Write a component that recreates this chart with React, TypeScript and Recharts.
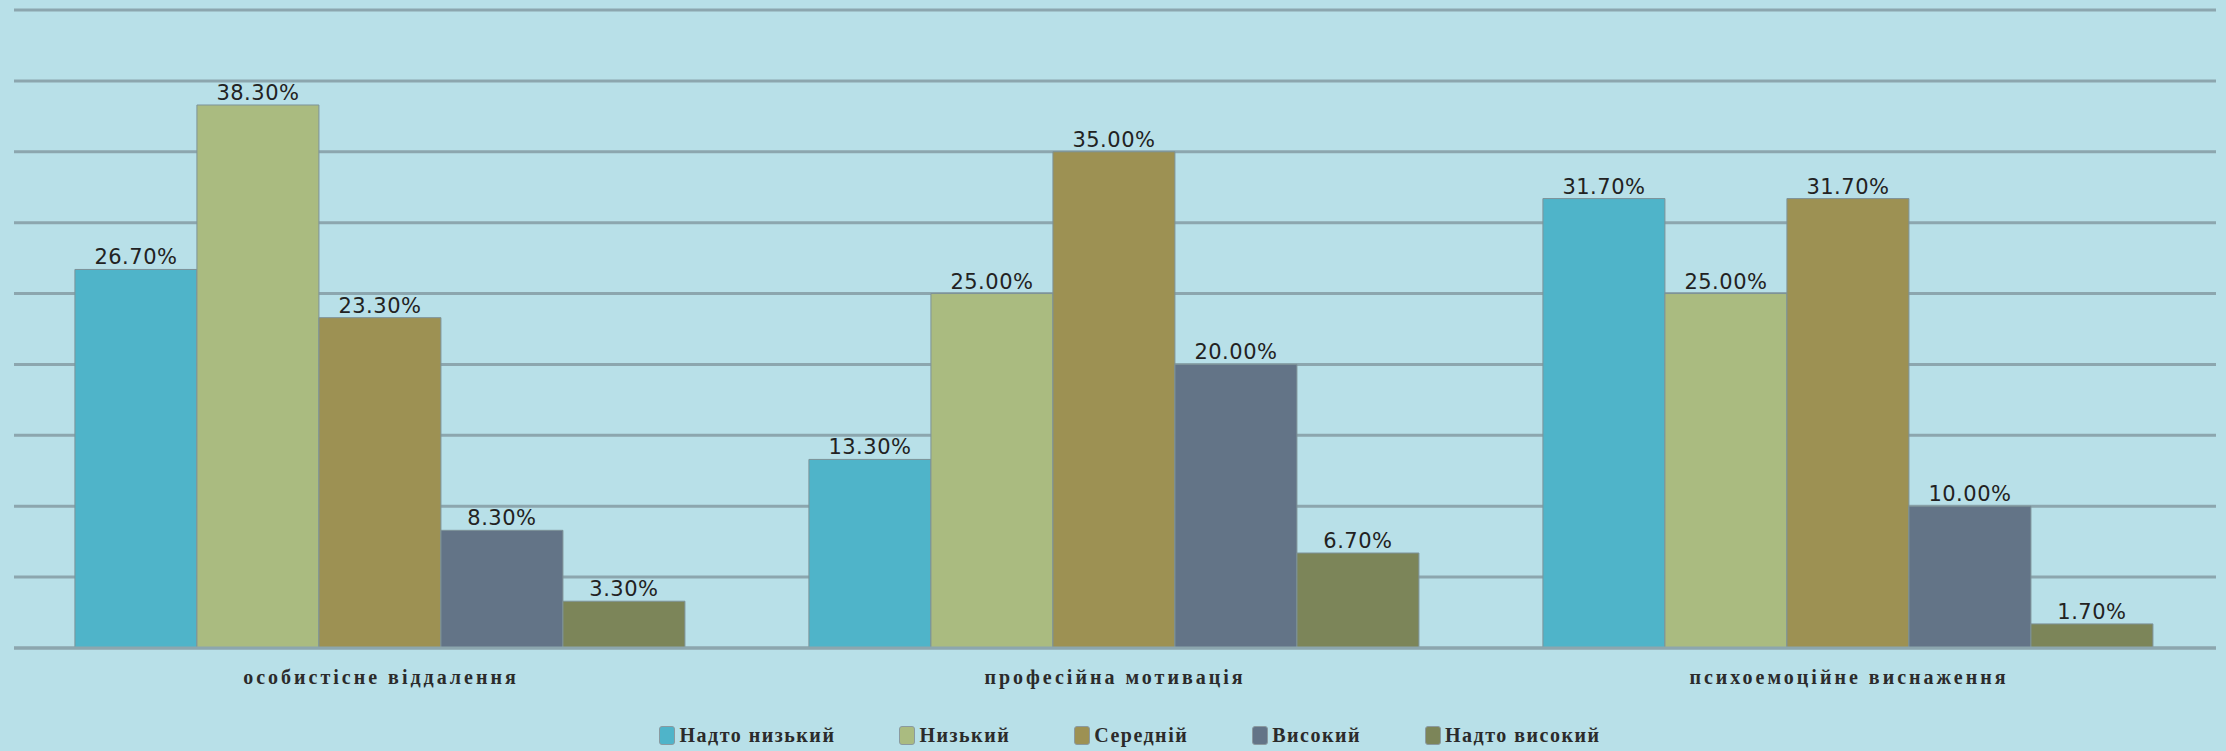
import { Bar, BarChart, CartesianGrid, LabelList, Legend, XAxis, YAxis } from "recharts";

const CATEGORIES = ["особистісне віддалення", "професійна мотивація", "психоемоційне виснаження"];
const SERIES = ["Надто низький", "Низький", "Середній", "Високий", "Надто високий"];
const COLORS = ["#4fb4c9", "#aabb80", "#9d9153", "#637487", "#7c8559"];

const VERY_LOW = [26.7, 13.3, 31.7];
const LOW = [38.3, 25.0, 25.0];
const MEDIUM = [23.3, 35.0, 31.7];
const HIGH = [8.3, 20.0, 10.0];
const VERY_HIGH = [3.3, 6.7, 1.7];

const Y_TICKS = [0, 5, 10, 15, 20, 25, 30, 35, 40, 45];

const VALUES = [VERY_LOW, LOW, MEDIUM, HIGH, VERY_HIGH];

const data = CATEGORIES.map((name, i) => {
  const row: Record<string, string | number> = { name };
  SERIES.forEach((s, k) => {
    row[`s${k}`] = VALUES[k][i];
  });
  return row;
});

const GRID = "#8ca6ae";
const SERIF = "'Liberation Serif', 'Times New Roman', serif";

function LegendBox() {
  return (
    <div style={{ display: "flex", justifyContent: "center", alignItems: "center", gap: 64, paddingTop: 10, paddingLeft: 30, fontFamily: SERIF, fontWeight: 700, fontSize: 20, letterSpacing: 1.5, color: "#2b2b2b" }}>
      {SERIES.map((s, k) => (
        <span key={s} style={{ display: "inline-flex", alignItems: "center", gap: 4 }}>
          <span style={{ width: 14, height: 17, background: COLORS[k], borderRadius: 3, border: "1px solid #8a9aa0", display: "inline-block" }} />
          {s}
        </span>
      ))}
    </div>
  );
}

export default function App() {
  return (
    <div style={{ width: 2226, height: 751, background: "#b8e0e8" }}>
      <style>{"body{margin:0}"}</style>
      <BarChart
        width={2226}
        height={751}
        data={data}
        margin={{ top: 10, right: 10, left: 14, bottom: 0 }}
        barCategoryGap="8.3%"
        barGap={0}
      >
        <CartesianGrid vertical={false} stroke={GRID} strokeWidth={3} />
        <XAxis
          dataKey="name"
          height={66}
          tickLine={false}
          axisLine={{ stroke: GRID, strokeWidth: 3 }}
          tick={{ fontFamily: SERIF, fontWeight: 700, fontSize: 20, letterSpacing: 3, fill: "#2b2b2b" }}
          tickMargin={16}
        />
        <YAxis hide domain={[0, 45]} ticks={Y_TICKS} />
        <Legend verticalAlign="bottom" height={37} content={() => <LegendBox />} />
        {SERIES.map((s, k) => (
          <Bar key={s} dataKey={`s${k}`} name={s} fill={COLORS[k]} stroke="#7d9298" strokeWidth={1} isAnimationActive={false}>
            <LabelList
              dataKey={`s${k}`}
              position="top"
              offset={5}
              formatter={(v: number) => `${v.toFixed(2)}%`}
              style={{ fontFamily: "'DejaVu Sans', sans-serif", fontSize: 21, letterSpacing: 0.5, fill: "#222" }}
            />
          </Bar>
        ))}
      </BarChart>
    </div>
  );
}
